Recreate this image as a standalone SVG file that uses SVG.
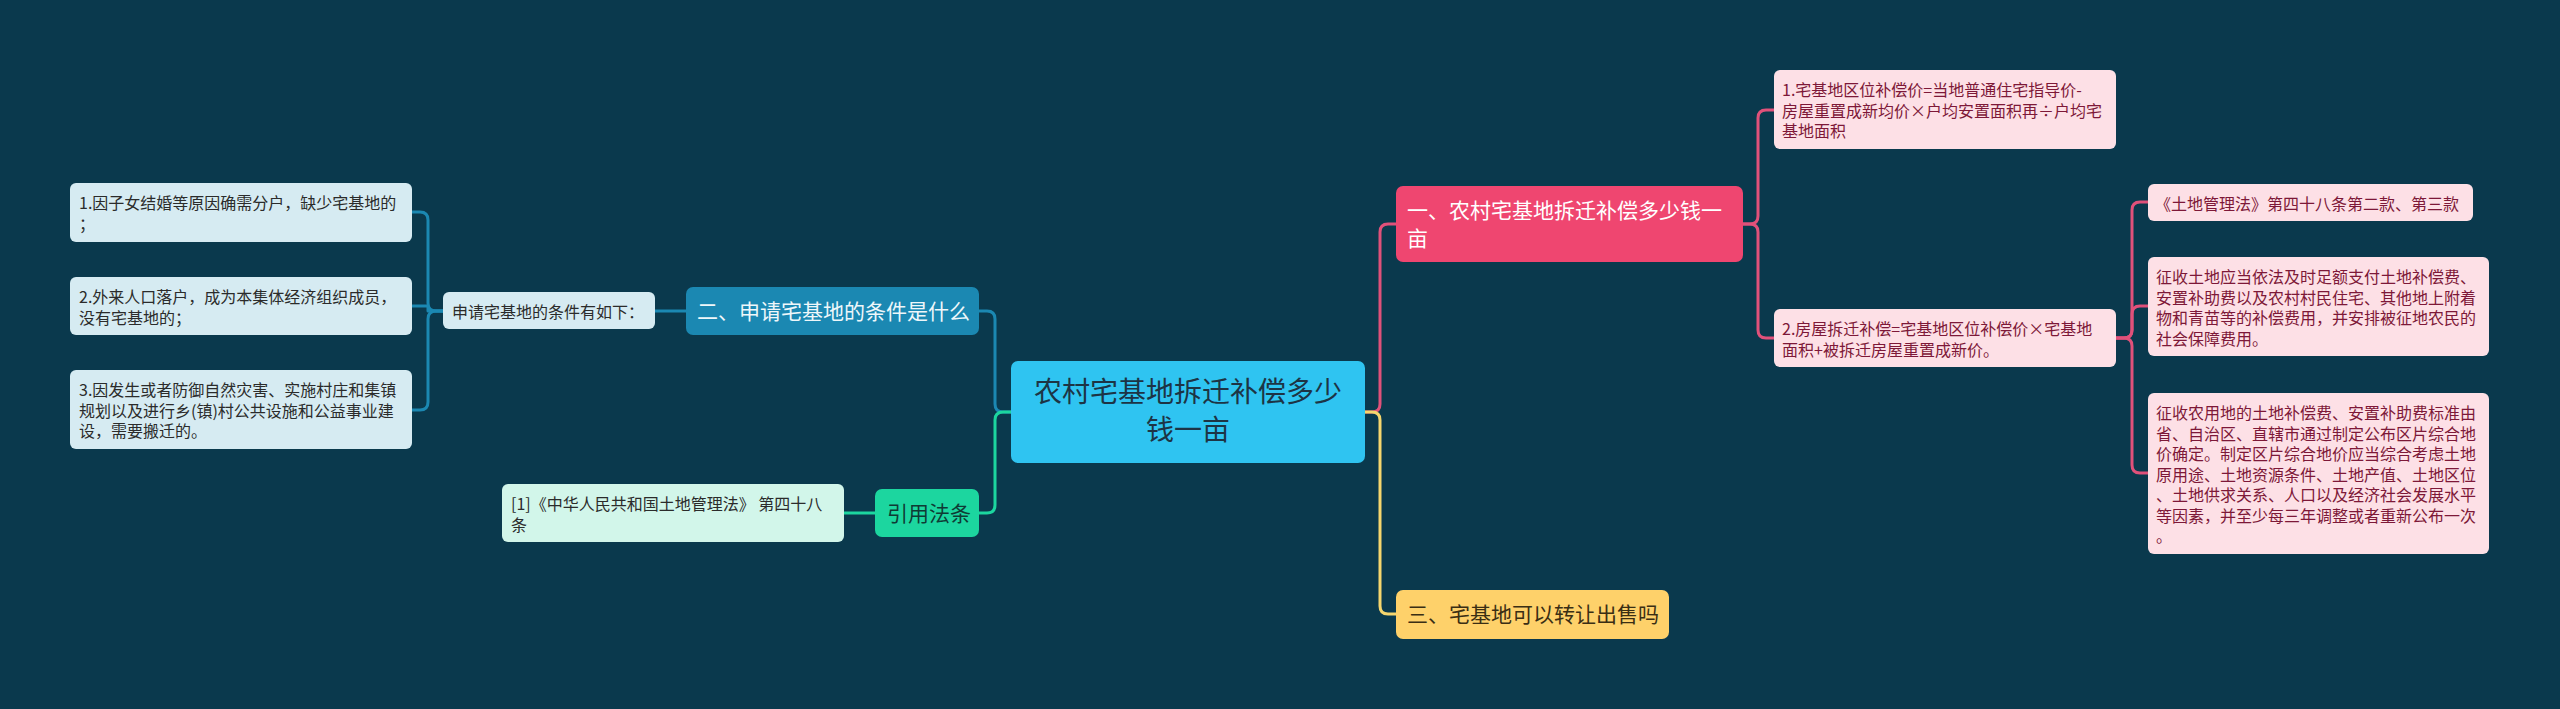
<svg xmlns="http://www.w3.org/2000/svg" width="2560" height="709" viewBox="0 0 2560 709">
<style>
text{font-family:"Noto Sans CJK SC","Noto Sans",sans-serif;}
.s{font-size:16px;}
.m{font-size:21px;}
.l{font-size:28px;}
.ln{fill:none;stroke-width:3;stroke-linejoin:round;stroke-linecap:round;}
.blue{stroke:#1b88b2;}
.green{stroke:#1cd69f;}
.pink{stroke:#e0517a;}
.yellow{stroke:#f5d66e;}
.lb{fill:#d6ebf2;}
.lbt{fill:#2b2b2b;}
.lp{fill:#fde0e6;}
.lpt{fill:#7d1838;}
</style>
<rect x="0" y="0" width="2560" height="709" fill="#0a394d"/>
<g id="connectors">
<path class="ln blue" d="M1011,412 H1003 Q995,412 995,404 V319 Q995,311 987,311 H979"/>
<path class="ln green" d="M1011,412 H1003 Q995,412 995,420 V505 Q995,513 987,513 H979"/>
<path class="ln pink" d="M1365,412 H1372 Q1380,412 1380,404 V232 Q1380,224 1388,224 H1396"/>
<path class="ln yellow" d="M1365,412 H1372 Q1380,412 1380,420 V606 Q1380,614 1388,614 H1396"/>
<path class="ln blue" d="M686,311 H655"/>
<path class="ln blue" d="M443,311 H436 Q428,311 428,303 V220 Q428,212 420,212 H412"/>
<path class="ln blue" d="M443,311 H428 V306 H412"/>
<path class="ln blue" d="M443,311 H436 Q428,311 428,319 V402 Q428,410 420,410 H412"/>
<path class="ln green" d="M875,513 H844"/>
<path class="ln pink" d="M1743,224 H1750 Q1758,224 1758,216 V118 Q1758,110 1766,110 H1774"/>
<path class="ln pink" d="M1743,224 H1750 Q1758,224 1758,232 V330 Q1758,338 1766,338 H1774"/>
<path class="ln pink" d="M2116,338 H2124 Q2132,338 2132,330 V210 Q2132,202 2140,202 H2148"/>
<path class="ln pink" d="M2116,338 H2124 Q2132,338 2132,330 V314 Q2132,306 2140,306 H2148"/>
<path class="ln pink" d="M2116,338 H2124 Q2132,338 2132,346 V465 Q2132,473 2140,473 H2148"/>
</g>
<g id="root">
<rect x="1011" y="361" width="354" height="102" rx="7" fill="#2fc4f1"/>
<text class="l" x="1188" y="402" text-anchor="middle" fill="#1d3445">农村宅基地拆迁补偿多少</text>
<text class="l" x="1188" y="440" text-anchor="middle" fill="#1d3445">钱一亩</text>
</g>
<g id="n2">
<rect x="686" y="287" width="293" height="48" rx="7" fill="#1b88b2"/>
<text class="m" x="697" y="319" fill="#eef7fa">二、申请宅基地的条件是什么</text>
</g>
<g id="n2a">
<rect x="443" y="292" width="212" height="37" rx="6" class="lb"/>
<text class="s lbt" x="452" y="318">申请宅基地的条件有如下：</text>
</g>
<g id="n2a1">
<rect x="70" y="183" width="342" height="59" rx="6" class="lb"/>
<text class="s lbt" x="79" y="209">1.因子女结婚等原因确需分户，缺少宅基地的</text>
<text class="s lbt" x="79" y="229.5">；</text>
</g>
<g id="n2a2">
<rect x="70" y="277" width="342" height="58" rx="6" class="lb"/>
<text class="s lbt" x="79" y="303">2.外来人口落户，成为本集体经济组织成员，</text>
<text class="s lbt" x="79" y="323.5">没有宅基地的；</text>
</g>
<g id="n2a3">
<rect x="70" y="370" width="342" height="79" rx="6" class="lb"/>
<text class="s lbt" x="79" y="396">3.因发生或者防御自然灾害、实施村庄和集镇</text>
<text class="s lbt" x="79" y="416.5">规划以及进行乡(镇)村公共设施和公益事业建</text>
<text class="s lbt" x="79" y="437">设，需要搬迁的。</text>
</g>
<g id="n4">
<rect x="875" y="489" width="104" height="48" rx="7" fill="#1cd69f"/>
<text class="m" x="887" y="521" fill="#0f3b35">引用法条</text>
</g>
<g id="n4a">
<rect x="502" y="484" width="342" height="58" rx="6" fill="#d2f6ea"/>
<text class="s" x="511" y="510" fill="#2b2b2b">[1]《中华人民共和国土地管理法》 第四十八</text>
<text class="s" x="511" y="530.5" fill="#2b2b2b">条</text>
</g>
<g id="n1">
<rect x="1396" y="186" width="347" height="76" rx="7" fill="#ef4670"/>
<text class="m" x="1407" y="218" fill="#ffffff">一、农村宅基地拆迁补偿多少钱一</text>
<text class="m" x="1407" y="246" fill="#ffffff">亩</text>
</g>
<g id="n1a">
<rect x="1774" y="70" width="342" height="79" rx="6" class="lp"/>
<text class="s lpt" x="1782" y="96">1.宅基地区位补偿价=当地普通住宅指导价-</text>
<text class="s lpt" x="1782" y="116.5">房屋重置成新均价×户均安置面积再÷户均宅</text>
<text class="s lpt" x="1782" y="137">基地面积</text>
</g>
<g id="n1b">
<rect x="1774" y="309" width="342" height="58" rx="6" class="lp"/>
<text class="s lpt" x="1782" y="335">2.房屋拆迁补偿=宅基地区位补偿价×宅基地</text>
<text class="s lpt" x="1782" y="355.5">面积+被拆迁房屋重置成新价。</text>
</g>
<g id="n1b1">
<rect x="2148" y="184" width="325" height="37" rx="6" class="lp"/>
<text class="s lpt" x="2155" y="210">《土地管理法》第四十八条第二款、第三款</text>
</g>
<g id="n1b2">
<rect x="2148" y="257" width="341" height="99" rx="6" class="lp"/>
<text class="s lpt" x="2156" y="283">征收土地应当依法及时足额支付土地补偿费、</text>
<text class="s lpt" x="2156" y="303.5">安置补助费以及农村村民住宅、其他地上附着</text>
<text class="s lpt" x="2156" y="324">物和青苗等的补偿费用，并安排被征地农民的</text>
<text class="s lpt" x="2156" y="344.5">社会保障费用。</text>
</g>
<g id="n1b3">
<rect x="2148" y="393" width="341" height="161" rx="6" class="lp"/>
<text class="s lpt" x="2156" y="419">征收农用地的土地补偿费、安置补助费标准由</text>
<text class="s lpt" x="2156" y="439.5">省、自治区、直辖市通过制定公布区片综合地</text>
<text class="s lpt" x="2156" y="460">价确定。制定区片综合地价应当综合考虑土地</text>
<text class="s lpt" x="2156" y="480.5">原用途、土地资源条件、土地产值、土地区位</text>
<text class="s lpt" x="2156" y="501">、土地供求关系、人口以及经济社会发展水平</text>
<text class="s lpt" x="2156" y="521.5">等因素，并至少每三年调整或者重新公布一次</text>
<text class="s lpt" x="2156" y="542">。</text>
</g>
<g id="n3">
<rect x="1396" y="590" width="273" height="49" rx="7" fill="#fed16a"/>
<text class="m" x="1407" y="622" fill="#3a2e14">三、宅基地可以转让出售吗</text>
</g>
</svg>
